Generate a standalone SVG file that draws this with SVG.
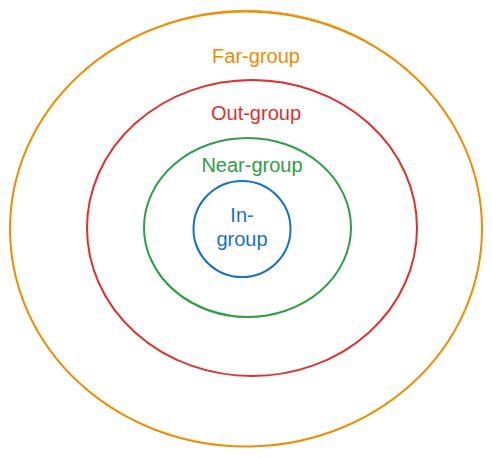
<svg xmlns="http://www.w3.org/2000/svg" width="492" height="458" viewBox="0 0 492 458">
<style>
.far{stroke:#f08c00}
.out{stroke:#e03131}
.near{stroke:#2f9e44}
.in{stroke:#1971c2}
.ring{fill:none;stroke-width:2;stroke-linecap:round}
.ring2{fill:none;stroke-width:1.2;stroke-linecap:round;opacity:0.8}
.lbl{font-family:"Liberation Sans","DejaVu Sans",sans-serif;font-size:20px;text-anchor:middle;stroke:none}
.tfar{fill:#f08c00}
.tout{fill:#e03131}
.tnear{fill:#2f9e44}
.tin{fill:#1971c2}
</style>
<rect width="492" height="458" fill="#ffffff"/>
<g id="far-group">
<ellipse class="far ring" cx="246" cy="229" rx="236" ry="217.5"/>
<path class="far ring2" d="M 165 24 A 235 218.5 0 0 1 364.5 40"/>
<text class="lbl tfar" x="256" y="63">Far-group</text>
</g>
<g id="out-group">
<ellipse class="out ring" cx="252" cy="228" rx="165" ry="148"/>
<path class="out ring2" d="M 223.5 82.5 A 164.5 148.5 0 0 1 378.5 133.5"/>
<text class="lbl tout" x="256" y="120">Out-group</text>
</g>
<g id="near-group">
<ellipse class="near ring" cx="247.5" cy="227.5" rx="103.5" ry="89.5"/>
<path class="near ring2" d="M 151 258.5 A 103 89 0 0 0 230 315"/>
<text class="lbl tnear" x="252" y="172">Near-group</text>
</g>
<g id="in-group">
<ellipse class="in ring" cx="242" cy="229" rx="48.5" ry="48"/>
<path class="in ring2" d="M 197 245.5 A 48 48.5 0 0 0 226 274.5"/>
<text class="lbl tin" x="242" y="222">In-</text>
<text class="lbl tin" x="242" y="246">group</text>
</g>
<g id="connectors"/>
</svg>
